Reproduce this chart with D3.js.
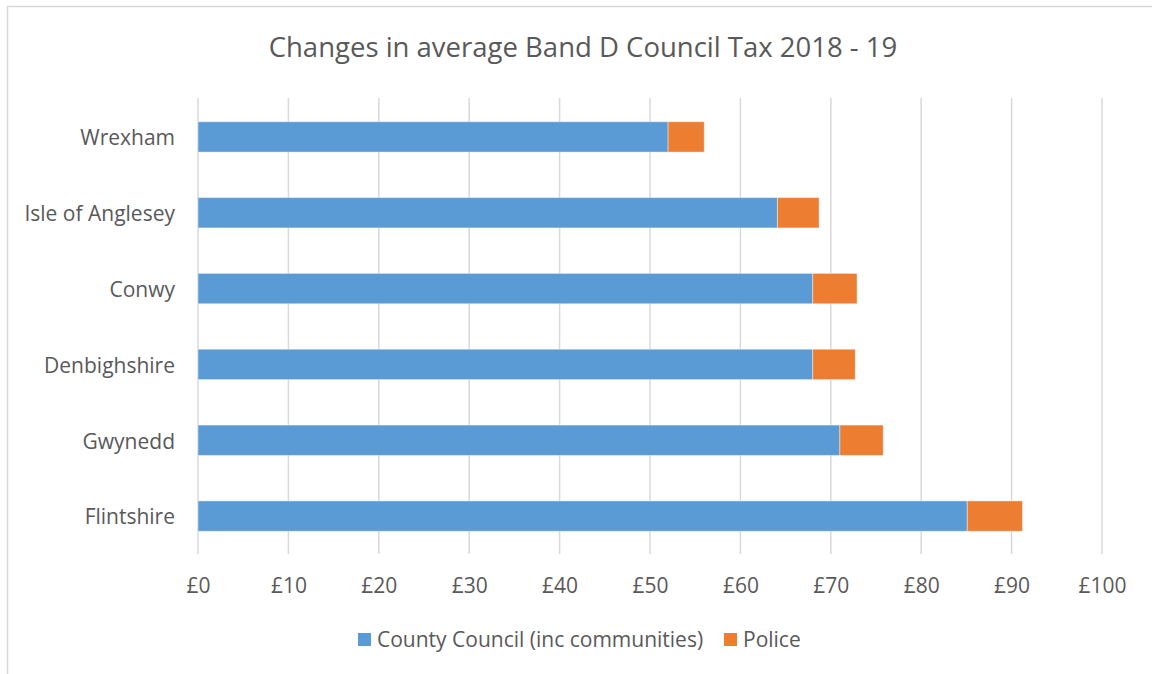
<!DOCTYPE html>
<html>
<head>
<meta charset="utf-8">
<script src="https://cdn.jsdelivr.net/npm/d3@7"></script>
<style>
  body { margin: 0; background: #fff; }
  text { font-family: "Open Sans", sans-serif; fill: #595959; }
</style>
</head>
<body>
<div id="chart"></div>
<script>
// Changes in average Band D council tax, north Wales
var categories = ["Wrexham", "Isle of Anglesey", "Conwy", "Denbighshire", "Gwynedd", "Flintshire"];
var countyCouncil = [52.0, 64.1, 68.0, 68.0, 71.0, 85.1];
var police = [4.0, 4.6, 4.9, 4.7, 4.8, 6.1];
var seriesNames = ["County Council (inc communities)", "Police"];
var xTicks = [0, 10, 20, 30, 40, 50, 60, 70, 80, 90, 100];

var svgWidth = 1152;
var svgHeight = 674;

var margin = { top: 99, right: 50, bottom: 120, left: 198 };
var width = svgWidth - margin.left - margin.right;
var height = svgHeight - margin.top - margin.bottom;

var colors = ["#5b9bd5", "#ed7d31"];

var svg = d3.select("#chart")
    .append("svg")
    .attr("width", svgWidth)
    .attr("height", svgHeight);

// outer frame (only top and left visible in the crop)
svg.append("rect")
    .attr("x", 7.5)
    .attr("y", 6.5)
    .attr("width", svgWidth + 20)
    .attr("height", svgHeight + 20)
    .attr("fill", "none")
    .attr("stroke", "#d9d9d9")
    .attr("stroke-width", 1.5);

svg.append("text")
    .attr("x", 583)
    .attr("y", 57)
    .attr("text-anchor", "middle")
    .attr("font-size", "27.5px")
    .text("Changes in average Band D Council Tax 2018 - 19");

var chartGroup = svg.append("g")
    .attr("transform", `translate(${margin.left}, ${margin.top})`);

var xScale = d3.scaleLinear()
    .domain([0, 100])
    .range([0, width]);

var yScale = d3.scaleBand()
    .domain(categories)
    .range([0, height])
    .paddingInner(0.6)
    .paddingOuter(0.3);

// gridlines
chartGroup.append("g")
    .selectAll("line")
    .data(xTicks)
    .enter()
    .append("line")
    .attr("x1", d => xScale(d))
    .attr("x2", d => xScale(d))
    .attr("y1", -1)
    .attr("y2", height)
    .attr("stroke", "#d9d9d9")
    .attr("stroke-width", 1.5);

// stacked data
var rows = categories.map((c, i) => ({ name: c, cc: countyCouncil[i], police: police[i] }));
var stacked = d3.stack().keys(["cc", "police"])(rows);

chartGroup.append("g")
    .selectAll("g")
    .data(stacked)
    .enter()
    .append("g")
    .attr("fill", (d, i) => colors[i])
    .selectAll("rect")
    .data(d => d)
    .enter()
    .append("rect")
    .attr("x", d => xScale(d[0]))
    .attr("y", d => yScale(d.data.name))
    .attr("width", d => xScale(d[1]) - xScale(d[0]))
    .attr("height", yScale.bandwidth())
    .attr("stroke", "#ffffff")
    .attr("stroke-opacity", 0.4)
    .attr("stroke-width", 1);

// axes
var bottomAxis = d3.axisBottom(xScale)
    .tickValues(xTicks)
    .tickFormat(d => "£" + d)
    .tickSize(0)
    .tickPadding(24);

var xAxis = chartGroup.append("g")
    .attr("transform", `translate(0, ${height})`)
    .call(bottomAxis);
xAxis.select(".domain").remove();
xAxis.selectAll("text")
    .attr("font-size", "21px")
    .attr("font-family", "Open Sans, sans-serif")
    .attr("fill", "#595959");

var leftAxis = d3.axisLeft(yScale)
    .tickSize(0)
    .tickPadding(23);

var yAxis = chartGroup.append("g")
    .call(leftAxis);
yAxis.select(".domain").remove();
yAxis.selectAll("text")
    .attr("dy", "0.4em")
    .attr("font-size", "21px")
    .attr("font-family", "Open Sans, sans-serif")
    .attr("fill", "#595959");

// legend
var legend = svg.append("g")
    .attr("transform", "translate(358, 640)");

var legendX = [0, 366];
var legendItems = legend.selectAll("g")
    .data(seriesNames)
    .enter()
    .append("g")
    .attr("transform", (d, i) => `translate(${legendX[i]}, 0)`);

legendItems.append("rect")
    .attr("x", 0)
    .attr("y", -7)
    .attr("width", 13)
    .attr("height", 13)
    .attr("fill", (d, i) => colors[i]);

legendItems.append("text")
    .attr("x", 19)
    .attr("y", 0)
    .attr("dy", "0.35em")
    .attr("font-size", "21px")
    .text(d => d);
</script>
</body>
</html>
